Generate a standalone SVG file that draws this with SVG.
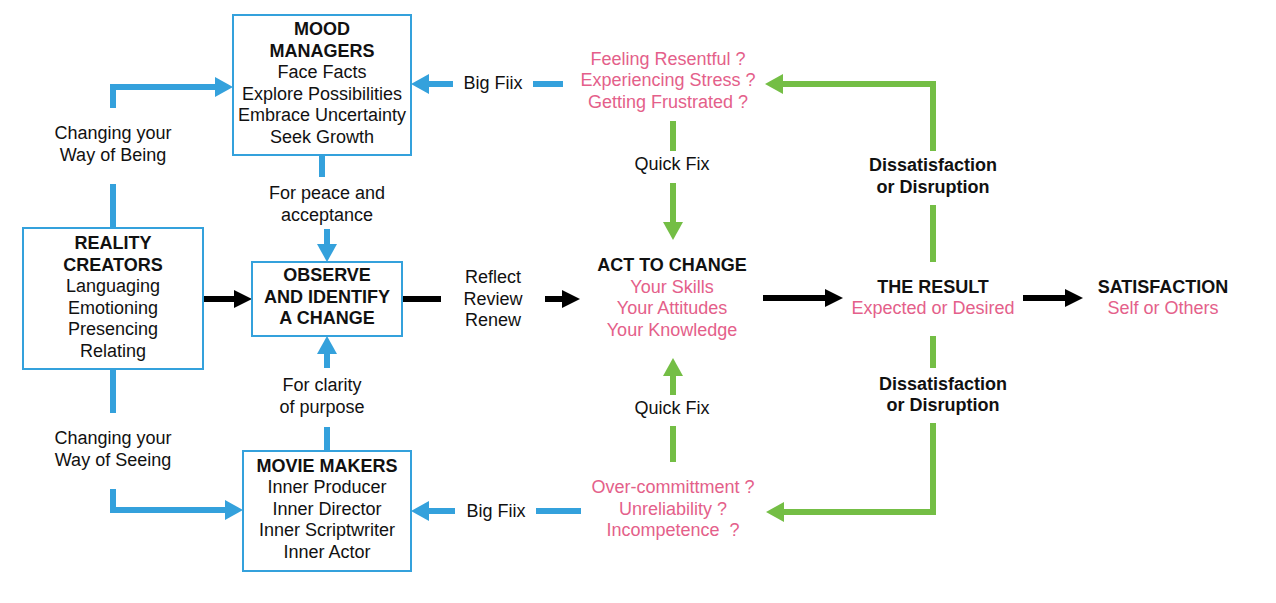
<svg xmlns="http://www.w3.org/2000/svg" width="1276" height="603" viewBox="0 0 1276 603">
<defs>
<style>
text{font-family:"Liberation Sans",Arial,sans-serif;font-size:18px;text-anchor:middle;fill:#111}
.b{font-weight:bold}
.p{fill:#e4608a}
.box{fill:#fff;stroke:#34a1dc;stroke-width:2}
.bl{fill:none;stroke:#34a1dc;stroke-width:6}
.gr{fill:none;stroke:#74be45;stroke-width:6}
.bk{fill:none;stroke:#000;stroke-width:6}
</style>
<marker id="ab" markerUnits="userSpaceOnUse" markerWidth="18" markerHeight="20" refX="4" refY="10" orient="auto"><path d="M0,0 L18,10 L0,20 z" fill="#34a1dc"/></marker>
<marker id="ag" markerUnits="userSpaceOnUse" markerWidth="18" markerHeight="20" refX="4" refY="10" orient="auto"><path d="M0,0 L18,10 L0,20 z" fill="#74be45"/></marker>
<marker id="ak" markerUnits="userSpaceOnUse" markerWidth="18" markerHeight="20" refX="4" refY="10" orient="auto"><path d="M0,1 L18,10 L0,19 z" fill="#000"/></marker>
</defs>
<rect width="1276" height="603" fill="#fff"/>
<g id="connectors">
<path class="bl" d="M113,108 V87 H219" marker-end="url(#ab)"/>
<path class="bl" d="M113,184 V228"/>
<path class="bl" d="M113,369 V413"/>
<path class="bl" d="M113,489 V510 H229" marker-end="url(#ab)"/>
<path class="bl" d="M322,155 V177"/>
<path class="bl" d="M327,229 V248" marker-end="url(#ab)"/>
<path class="bl" d="M327,368 V350" marker-end="url(#ab)"/>
<path class="bl" d="M327,427 V451"/>
<path class="bl" d="M453,84 H425" marker-end="url(#ab)"/>
<path class="bl" d="M533,84 H563"/>
<path class="bl" d="M455,511 H425" marker-end="url(#ab)"/>
<path class="bl" d="M536,511 H581"/>
<path class="bk" d="M203,299 H238" marker-end="url(#ak)"/>
<path class="bk" d="M402,299 H441"/>
<path class="bk" d="M545,299 H566" marker-end="url(#ak)"/>
<path class="bk" d="M763,298 H829" marker-end="url(#ak)"/>
<path class="bk" d="M1023,298 H1069" marker-end="url(#ak)"/>
<path class="gr" d="M933,262 V205"/>
<path class="gr" d="M933,151 V84 H779" marker-end="url(#ag)"/>
<path class="gr" d="M673,121 V151"/>
<path class="gr" d="M673,183 V226" marker-end="url(#ag)"/>
<path class="gr" d="M673,395 V372" marker-end="url(#ag)"/>
<path class="gr" d="M673,426 V462"/>
<path class="gr" d="M933,336 V368"/>
<path class="gr" d="M933,423 V512 H780" marker-end="url(#ag)"/>
</g>
<g id="labels">
<text x="113" y="139">Changing your</text>
<text x="113" y="161">Way of Being</text>
<text x="113" y="444">Changing your</text>
<text x="113" y="466">Way of Seeing</text>
<text x="327" y="199">For peace and</text>
<text x="327" y="220.5">acceptance</text>
<text x="322" y="391">For clarity</text>
<text x="322" y="412.5">of purpose</text>
<text x="493" y="283">Reflect</text>
<text x="493" y="304.5">Review</text>
<text x="493" y="326">Renew</text>
<text x="493" y="88.5">Big Fiix</text>
<text x="496" y="517">Big Fiix</text>
<text x="672" y="170">Quick Fix</text>
<text x="672" y="414">Quick Fix</text>
<text class="b" x="933" y="171">Dissatisfaction</text>
<text class="b" x="933" y="192.5">or Disruption</text>
<text class="b" x="943" y="389.5">Dissatisfaction</text>
<text class="b" x="943" y="411">or Disruption</text>
</g>
<g id="mood-managers">
<rect class="box" x="233" y="15" width="178" height="140"/>
<text class="b" x="322" y="35">MOOD</text>
<text class="b" x="322" y="56.5">MANAGERS</text>
<text x="322" y="78">Face Facts</text>
<text x="322" y="99.5">Explore Possibilities</text>
<text x="322" y="121">Embrace Uncertainty</text>
<text x="322" y="142.5">Seek Growth</text>
</g>
<g id="reality-creators">
<rect class="box" x="23" y="228" width="180" height="141"/>
<text class="b" x="113" y="249">REALITY</text>
<text class="b" x="113" y="270.5">CREATORS</text>
<text x="113" y="292">Languaging</text>
<text x="113" y="313.5">Emotioning</text>
<text x="113" y="335">Presencing</text>
<text x="113" y="356.5">Relating</text>
</g>
<g id="observe">
<rect class="box" x="252" y="262" width="150" height="74"/>
<text class="b" x="327" y="281">OBSERVE</text>
<text class="b" x="327" y="302.5">AND IDENTIFY</text>
<text class="b" x="327" y="324">A CHANGE</text>
</g>
<g id="movie-makers">
<rect class="box" x="243" y="451" width="168" height="120"/>
<text class="b" x="327" y="471.5">MOVIE MAKERS</text>
<text x="327" y="493">Inner Producer</text>
<text x="327" y="514.5">Inner Director</text>
<text x="327" y="536">Inner Scriptwriter</text>
<text x="327" y="557.5">Inner Actor</text>
</g>
<g id="stress">
<text class="p" x="668" y="64.5">Feeling Resentful ?</text>
<text class="p" x="668" y="86">Experiencing Stress ?</text>
<text class="p" x="668" y="107.5">Getting Frustrated ?</text>
</g>
<g id="act-to-change">
<text class="b" x="672" y="271">ACT TO CHANGE</text>
<text class="p" x="672" y="292.5">Your Skills</text>
<text class="p" x="672" y="314">Your Attitudes</text>
<text class="p" x="672" y="335.5">Your Knowledge</text>
</g>
<g id="overcommit">
<text class="p" x="673" y="493">Over-committment ?</text>
<text class="p" x="673" y="514.5">Unreliability ?</text>
<text class="p" x="673" y="536" xml:space="preserve">Incompetence  ?</text>
</g>
<g id="the-result">
<text class="b" x="933" y="292.5">THE RESULT</text>
<text class="p" x="933" y="314">Expected or Desired</text>
</g>
<g id="satisfaction">
<text class="b" x="1163" y="292.5">SATISFACTION</text>
<text class="p" x="1163" y="314">Self or Others</text>
</g>
</svg>
